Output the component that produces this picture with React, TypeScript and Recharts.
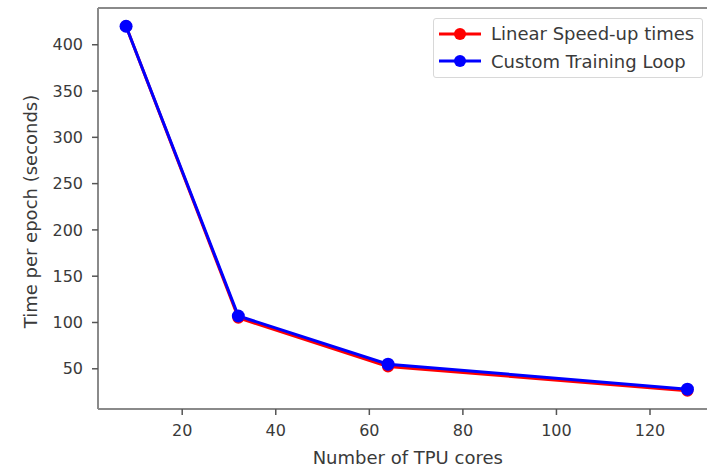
import React from "react";
import { LineChart, Line, XAxis, YAxis, ReferenceLine } from "recharts";

const tpuCores = [8, 32, 64, 128];
const linearSpeedup = [420, 105, 52.5, 26.25];
const customLoop = [420, 107, 55, 28];
const xTicks = [20, 40, 60, 80, 100, 120];
const yTicks = [50, 100, 150, 200, 250, 300, 350, 400];
const seriesNames = ["Linear Speed-up times", "Custom Training Loop"];
const seriesColors = ["#ff0000", "#0000ff"];
const xDomain: [number, number] = [2, 134];
const yDomain: [number, number] = [6.56, 439.69];

const data = tpuCores.map((c, i) => ({
  cores: c,
  linear: linearSpeedup[i],
  custom: customLoop[i],
}));

const FONT = "'DejaVu Sans', sans-serif";
const AXIS = "#8a8a8a";
const TEXT = "#3a3a3a";

const XLabel = (props: any) => {
  const vb = props.viewBox || {};
  return (
    <text
      x={vb.x + vb.width / 2 + 1}
      y={vb.y + 48}
      textAnchor="middle"
      dominantBaseline="central"
      fill={TEXT}
      fontSize={18}
      fontFamily={FONT}
    >
      Number of TPU cores
    </text>
  );
};

const YLabel = (props: any) => {
  const vb = props.viewBox || {};
  const cx = 30;
  const cy = vb.y + vb.height / 2 + 3;
  return (
    <text
      x={cx}
      y={cy}
      transform={`rotate(-90, ${cx}, ${cy})`}
      textAnchor="middle"
      dominantBaseline="central"
      fill={TEXT}
      fontSize={18}
      fontFamily={FONT}
    >
      Time per epoch (seconds)
    </text>
  );
};

const LegendBox = () => (
  <div
    style={{
      position: "absolute",
      left: 433,
      top: 18,
      width: 270,
      height: 60,
      border: "1px solid #d8d8d8",
      borderRadius: 3,
      background: "#fff",
      boxSizing: "border-box",
      fontFamily: FONT,
      fontSize: 18,
      color: TEXT,
      paddingTop: 1,
    }}
  >
    {seriesNames.map((n, i) => (
      <div key={n} style={{ display: "flex", alignItems: "center", height: 27.5, whiteSpace: "nowrap" }}>
        <svg width={44} height={16} style={{ marginLeft: 4, marginRight: 9, flex: "none" }}>
          <line x1={1} y1={8} x2={43} y2={8} stroke={seriesColors[i]} strokeWidth={3} />
          <circle cx={22} cy={8} r={6} fill={seriesColors[i]} />
        </svg>
        <span>{n}</span>
      </div>
    ))}
  </div>
);

export default function App() {
  return (
    <div
      style={{
        position: "absolute",
        left: 0,
        top: 0,
        width: 707,
        height: 468,
        overflow: "hidden",
        background: "#fff",
      }}
    >
      <LineChart
        width={720}
        height={468}
        data={data}
        margin={{ top: 8, right: 4.5, bottom: 0, left: 0 }}
        style={{ fontFamily: FONT }}
      >
        <XAxis
          dataKey="cores"
          type="number"
          domain={xDomain}
          ticks={xTicks}
          allowDataOverflow
          stroke={AXIS}
          strokeWidth={2}
          tickLine={{ stroke: "#555", strokeWidth: 1.5 }}
          tickSize={6}
          tickMargin={10}
          height={59}
          tick={{ fill: TEXT, fontSize: 16 }}
          label={<XLabel />}
        />
        <YAxis
          type="number"
          domain={yDomain}
          ticks={yTicks}
          allowDataOverflow
          width={98}
          stroke={AXIS}
          strokeWidth={2}
          tickLine={{ stroke: "#555", strokeWidth: 1.5 }}
          tickSize={6}
          tickMargin={9}
          tick={{ fill: TEXT, fontSize: 16 }}
          label={<YLabel />}
        />
        <ReferenceLine y={yDomain[1]} stroke={AXIS} strokeWidth={2} />
        <Line
          dataKey="linear"
          name={seriesNames[0]}
          stroke={seriesColors[0]}
          strokeWidth={3}
          dot={{ r: 6, fill: seriesColors[0], stroke: seriesColors[0], strokeWidth: 0 }}
          isAnimationActive={false}
        />
        <Line
          dataKey="custom"
          name={seriesNames[1]}
          stroke={seriesColors[1]}
          strokeWidth={3}
          dot={{ r: 6.5, fill: seriesColors[1], stroke: seriesColors[1], strokeWidth: 0 }}
          isAnimationActive={false}
        />
      </LineChart>
      <LegendBox />
    </div>
  );
}
